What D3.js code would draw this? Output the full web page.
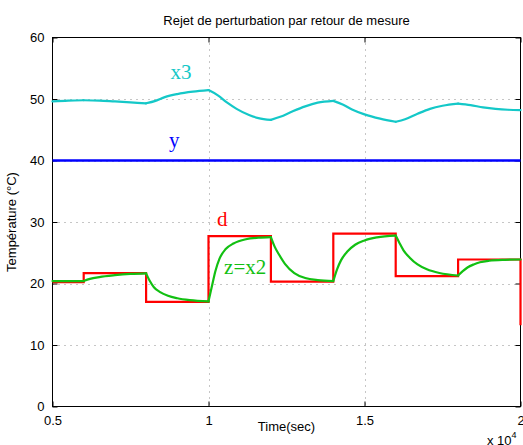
<!DOCTYPE html>
<html>
<head>
<meta charset="utf-8">
<script src="https://cdn.jsdelivr.net/npm/d3@7"></script>
<style>
  html, body { margin: 0; padding: 0; background: #fff; }
  svg { display: block; }
</style>
</head>
<body>
<svg id="chart" width="523" height="445"></svg>
<script>
// Axis ticks (time in units of 10^4 s)
const timeTicks = [0.5, 1, 1.5, 2];
const timeTickLabels = ["0.5", "1", "1.5", "2"];
const tempTicks = [0, 10, 20, 30, 40, 50, 60];

// Step instants of the disturbance d
const stepTimes = [0.5, 0.6, 0.8, 1.0, 1.2, 1.4, 1.6, 1.8, 2.0];
// Disturbance d (held from each step instant; last entry = final value at t=2)
const dValues = [20.2, 21.7, 17.0, 27.7, 20.3, 28.1, 21.2, 23.9, 13.2];

// Output y (regulated)
const yTimes = [0.5, 2.0];
const yValues = [40, 40];

// State x3
const x3Times = [0.5, 0.55, 0.6, 0.65, 0.7, 0.75, 0.8, 0.83, 0.86, 0.9, 0.95, 1.0,
  1.03, 1.06, 1.09, 1.13, 1.16, 1.2, 1.23, 1.27, 1.31, 1.35, 1.4,
  1.43, 1.46, 1.5, 1.55, 1.6, 1.63, 1.67, 1.71, 1.75, 1.8,
  1.84, 1.88, 1.92, 1.96, 2.0];
const x3Values = [49.6, 49.75, 49.8, 49.75, 49.6, 49.45, 49.3, 49.7, 50.3, 50.8, 51.2, 51.45,
  50.6, 49.4, 48.4, 47.4, 46.9, 46.6, 47.1, 48.0, 48.8, 49.4, 49.7,
  49.1, 48.3, 47.5, 46.8, 46.3, 46.7, 47.6, 48.4, 48.9, 49.25,
  49.0, 48.65, 48.4, 48.25, 48.2];

// Measured state z = x2
const x2Times = [0.5, 0.6, 0.62, 0.65, 0.7, 0.75, 0.8,
  0.812, 0.825, 0.845, 0.87, 0.9, 0.94, 1.0,
  1.012, 1.022, 1.035, 1.055, 1.08, 1.12, 1.16, 1.2,
  1.212, 1.225, 1.245, 1.275, 1.31, 1.35, 1.4,
  1.412, 1.425, 1.445, 1.47, 1.5, 1.54, 1.6,
  1.612, 1.625, 1.645, 1.67, 1.7, 1.74, 1.8,
  1.815, 1.83, 1.85, 1.87, 1.9, 1.95, 2.0];
const x2Values = [20.4, 20.4, 20.75, 21.05, 21.35, 21.55, 21.65,
  20.4, 19.4, 18.6, 18.0, 17.6, 17.3, 17.1,
  19.8, 22.0, 24.0, 25.6, 26.5, 27.2, 27.45, 27.55,
  26.0, 24.8, 23.2, 21.7, 20.9, 20.55, 20.4,
  22.3, 23.8, 25.2, 26.3, 27.0, 27.5, 27.8,
  26.6, 25.4, 24.2, 23.1, 22.3, 21.7, 21.3,
  22.0, 22.6, 23.1, 23.45, 23.7, 23.85, 23.9];

const svg = d3.select("#chart");
const pLeft = 52.5, pRight = 520.5, pTop = 37.5, pBottom = 406.5;

const x = d3.scaleLinear().domain([0.5, 2]).range([pLeft, pRight]);
const y = d3.scaleLinear().domain([0, 60]).range([pBottom, pTop]);

const sans = "'Liberation Sans', Arial, Helvetica, sans-serif";
const serif = "'Liberation Serif', 'Times New Roman', serif";

// Title
svg.append("text")
  .attr("x", (pLeft + pRight) / 2).attr("y", 25)
  .attr("text-anchor", "middle")
  .style("font-family", sans).style("font-size", "13px")
  .text("Rejet de perturbation par retour de mesure");

// Dotted grid
const grid = svg.append("g")
  .attr("stroke", "#8c8c8c").attr("stroke-width", 1)
  .attr("stroke-dasharray", "1,5");
grid.selectAll("line.v").data(timeTicks.slice(1, -1)).join("line")
  .attr("x1", d => Math.round(x(d)) + 0.5).attr("x2", d => Math.round(x(d)) + 0.5)
  .attr("y1", pTop).attr("y2", pBottom);
grid.selectAll("line.h").data(tempTicks.slice(1, -1)).join("line")
  .attr("y1", d => Math.round(y(d)) + 0.5).attr("y2", d => Math.round(y(d)) + 0.5)
  .attr("x1", pLeft).attr("x2", pRight);

// Frame (drawn under the data so the final step of d stays visible on the border)
svg.append("rect")
  .attr("x", pLeft).attr("y", pTop).attr("width", pRight - pLeft).attr("height", pBottom - pTop)
  .attr("fill", "none").attr("stroke", "#000").attr("stroke-width", 1);

// Axes with inward ticks on all four sides
const axisStyle = g => {
  g.select(".domain").remove();
  g.selectAll("text").style("font-family", sans).style("font-size", "13px").attr("fill", "#000");
  g.selectAll("line").attr("stroke", "#000");
};
svg.append("g").attr("transform", `translate(0,${pBottom})`)
  .call(d3.axisBottom(x).tickValues(timeTicks).tickFormat((d, i) => timeTickLabels[i])
    .tickSizeInner(-5).tickSizeOuter(0).tickPadding(9))
  .call(axisStyle);
svg.append("g").attr("transform", `translate(${pLeft},0)`)
  .call(d3.axisLeft(y).tickValues(tempTicks).tickFormat(d3.format("d"))
    .tickSizeInner(-5).tickSizeOuter(0).tickPadding(8))
  .call(axisStyle);
svg.append("g").attr("transform", `translate(0,${pTop})`)
  .call(d3.axisTop(x).tickValues(timeTicks).tickFormat("").tickSizeInner(-5).tickSizeOuter(0))
  .call(axisStyle);
svg.append("g").attr("transform", `translate(${pRight},0)`)
  .call(d3.axisRight(y).tickValues(tempTicks).tickFormat("").tickSizeInner(-5).tickSizeOuter(0))
  .call(axisStyle);

// Data lines
const plot = svg.append("g");

const segLine = d3.line().x(d => x(d[0])).y(d => y(d[1])).curve(d3.curveMonotoneX);
function drawPiecewise(times, values, color) {
  const pts = times.map((t, i) => [t, values[i]]);
  for (let i = 0; i < stepTimes.length - 1; i++) {
    const a = stepTimes[i], b = stepTimes[i + 1];
    const seg = pts.filter(p => p[0] >= a - 1e-9 && p[0] <= b + 1e-9);
    if (seg.length < 2) continue;
    plot.append("path").datum(seg)
      .attr("d", segLine)
      .attr("fill", "none").attr("stroke", color)
      .attr("stroke-width", 2.2).attr("stroke-linejoin", "round").attr("stroke-linecap", "round");
  }
}

// y : regulated output
plot.append("path")
  .datum(yTimes.map((t, i) => [t, yValues[i]]))
  .attr("d", d3.line().x(d => x(d[0])).y(d => y(d[1])))
  .attr("fill", "none").attr("stroke", "#0000ff").attr("stroke-width", 2.4);

// x3
drawPiecewise(x3Times, x3Values, "#14c8c8");

// d : piecewise-constant disturbance
plot.append("path")
  .datum(stepTimes.map((t, i) => [t, dValues[i]]))
  .attr("d", d3.line().x(d => x(d[0])).y(d => y(d[1])).curve(d3.curveStepAfter))
  .attr("fill", "none").attr("stroke", "#ff0000").attr("stroke-width", 2.2);

// z = x2
drawPiecewise(x2Times, x2Values, "#12c012");

// Curve labels
const labels = [
  { text: "x3", t: 0.878, v: 53.2, color: "#14c8c8" },
  { text: "y", t: 0.873, v: 42.2, color: "#0000ff" },
  { text: "d", t: 1.027, v: 29.4, color: "#ff0000" },
  { text: "z=x2", t: 1.05, v: 21.5, color: "#12c012" }
];
svg.selectAll("text.lbl").data(labels).join("text")
  .attr("class", "lbl")
  .attr("x", d => x(d.t)).attr("y", d => y(d.v))
  .attr("fill", d => d.color)
  .style("font-family", serif).style("font-size", "21px")
  .text(d => d.text);

// Axis titles
svg.append("text")
  .attr("x", (pLeft + pRight) / 2).attr("y", 431)
  .attr("text-anchor", "middle")
  .style("font-family", sans).style("font-size", "13px")
  .text("Time(sec)");
const expo = svg.append("text")
  .attr("x", 487).attr("y", 445)
  .style("font-family", sans).style("font-size", "13px");
expo.append("tspan").text("x 10");
expo.append("tspan").attr("dy", -7).style("font-size", "9px").text("4");

svg.append("text")
  .attr("transform", `translate(16,${(pTop + pBottom) / 2}) rotate(-90)`)
  .attr("text-anchor", "middle")
  .style("font-family", sans).style("font-size", "13px")
  .text("Température (°C)");
</script>
</body>
</html>
